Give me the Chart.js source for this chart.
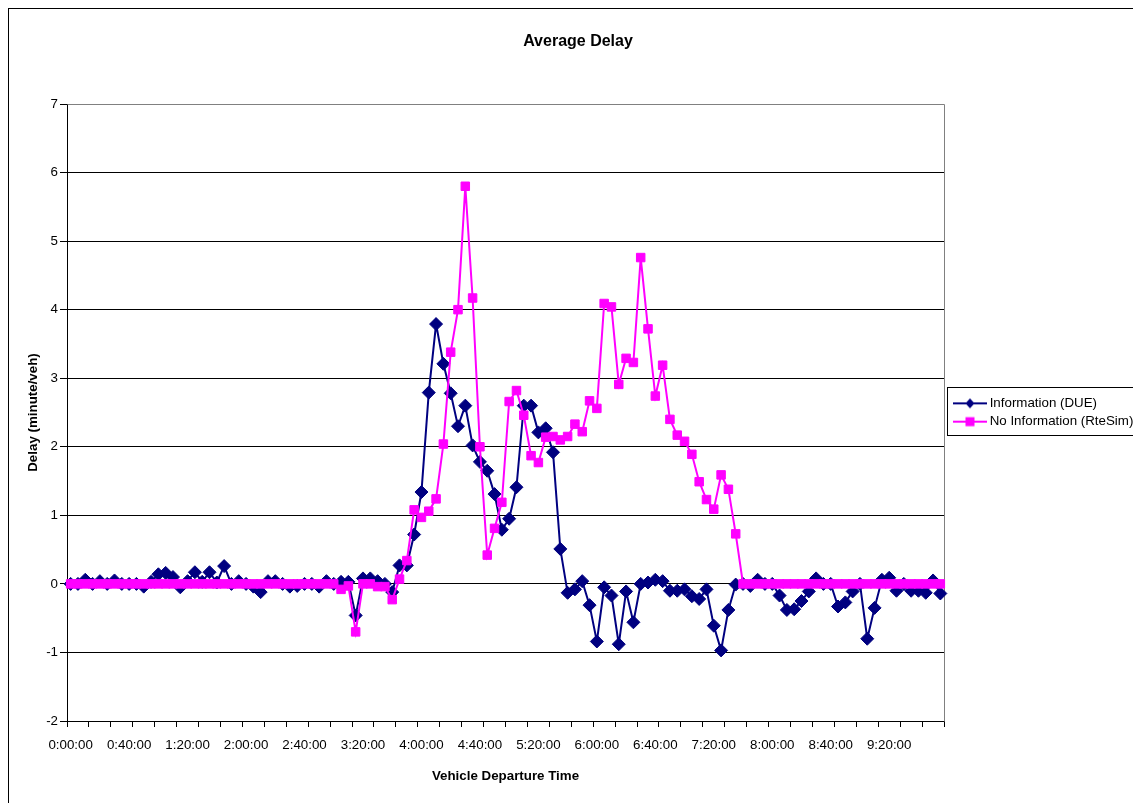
<!DOCTYPE html>
<html>
<head>
<meta charset="utf-8">
<title>Average Delay</title>
<script src="https://cdn.jsdelivr.net/npm/chart.js@4.4.1/dist/chart.umd.min.js"></script>
<style>
  html, body { margin: 0; padding: 0; background: #fff; overflow: hidden; width: 1133px; height: 803px; }
  canvas { display: block; }
</style>
</head>
<body>
<canvas id="delayChart"></canvas>
<script>
// Vehicle departure times, every 5 minutes
const departureTimes = [
  '0:00:00','0:05:00','0:10:00','0:15:00','0:20:00','0:25:00','0:30:00','0:35:00','0:40:00','0:45:00','0:50:00','0:55:00',
  '1:00:00','1:05:00','1:10:00','1:15:00','1:20:00','1:25:00','1:30:00','1:35:00','1:40:00','1:45:00','1:50:00','1:55:00',
  '2:00:00','2:05:00','2:10:00','2:15:00','2:20:00','2:25:00','2:30:00','2:35:00','2:40:00','2:45:00','2:50:00','2:55:00',
  '3:00:00','3:05:00','3:10:00','3:15:00','3:20:00','3:25:00','3:30:00','3:35:00','3:40:00','3:45:00','3:50:00','3:55:00',
  '4:00:00','4:05:00','4:10:00','4:15:00','4:20:00','4:25:00','4:30:00','4:35:00','4:40:00','4:45:00','4:50:00','4:55:00',
  '5:00:00','5:05:00','5:10:00','5:15:00','5:20:00','5:25:00','5:30:00','5:35:00','5:40:00','5:45:00','5:50:00','5:55:00',
  '6:00:00','6:05:00','6:10:00','6:15:00','6:20:00','6:25:00','6:30:00','6:35:00','6:40:00','6:45:00','6:50:00','6:55:00',
  '7:00:00','7:05:00','7:10:00','7:15:00','7:20:00','7:25:00','7:30:00','7:35:00','7:40:00','7:45:00','7:50:00','7:55:00',
  '8:00:00','8:05:00','8:10:00','8:15:00','8:20:00','8:25:00','8:30:00','8:35:00','8:40:00','8:45:00','8:50:00','8:55:00',
  '9:00:00','9:05:00','9:10:00','9:15:00','9:20:00','9:25:00','9:30:00','9:35:00','9:40:00','9:45:00','9:50:00','9:55:00'
];

// Average delay (minute/veh) with route information (DUE)
const delayInformation = [
  0, 0, 0.06, 0, 0.04, 0, 0.05, 0, 0, 0,
  -0.04, 0.03, 0.14, 0.16, 0.10, -0.05, 0.04, 0.17, 0.03, 0.17,
  0.02, 0.26, 0, 0.04, 0, -0.04, -0.12, 0.04, 0.04, 0,
  -0.04, -0.03, 0, 0, -0.04, 0.04, 0, 0.03, 0.03, -0.46,
  0.08, 0.08, 0.04, 0, -0.12, 0.27, 0.27, 0.72, 1.34, 2.79,
  3.79, 3.21, 2.78, 2.30, 2.60, 2.02, 1.78, 1.65, 1.31, 0.79,
  0.95, 1.41, 2.60, 2.60, 2.21, 2.27, 1.92, 0.51, -0.13, -0.08,
  0.04, -0.31, -0.84, -0.05, -0.17, -0.88, -0.11, -0.56, 0, 0.02,
  0.06, 0.04, -0.10, -0.10, -0.08, -0.18, -0.22, -0.08, -0.61, -0.97,
  -0.38, -0.01, 0, -0.03, 0.06, 0, 0, -0.17, -0.38, -0.37,
  -0.25, -0.11, 0.08, 0, 0, -0.33, -0.27, -0.11, 0, -0.80,
  -0.35, 0.06, 0.09, -0.10, 0, -0.10, -0.10, -0.13, 0.05, -0.14
];

// Average delay (minute/veh) without information (RteSim)
const delayNoInformation = [
  0, 0, 0, 0, 0, 0, 0, 0, 0, 0,
  0, 0, 0, 0, 0, 0, 0, 0, 0, 0,
  0, 0, 0, 0, 0, 0, 0, 0, 0, 0,
  0, 0, 0, 0, 0, 0, 0, -0.08, -0.03, -0.70,
  0, 0, -0.04, -0.04, -0.23, 0.07, 0.34, 1.08, 0.97, 1.06,
  1.24, 2.04, 3.38, 4.00, 5.80, 4.17, 2.00, 0.42, 0.81, 1.19,
  2.66, 2.82, 2.46, 1.87, 1.77, 2.14, 2.15, 2.10, 2.15, 2.33,
  2.22, 2.67, 2.56, 4.09, 4.04, 2.91, 3.29, 3.23, 4.76, 3.72,
  2.74, 3.19, 2.40, 2.17, 2.08, 1.89, 1.49, 1.23, 1.09, 1.59,
  1.38, 0.73, 0, 0, 0, 0, 0, 0, 0, 0,
  0, 0, 0, 0, 0, 0, 0, 0, 0, 0,
  0, 0, 0, 0, 0, 0, 0, 0, 0, 0
];

const seriesNames = ['Information (DUE)', 'No Information (RteSim)'];
const seriesColors = ['#000080', '#FF00FF'];
const seriesMarkers = ['rectRot', 'rect'];
const yRange = { min: -2, max: 7, step: 1 };
const labelEvery = 8;   // a time label every 40 minutes
const tickEvery = 3;    // a tick mark every 15 minutes

const FONT = '"Liberation Sans", Arial, Helvetica, sans-serif';
const FS = 13.333;

// Plot frame targets
const PLOT_LEFT = 67, PLOT_RIGHT = 944, PLOT_BOTTOM = 721, H = 803, TITLE_CX = 578;
const LEGEND_PAD = 5, SWATCH_W = 34, LEGEND_SHIFT = 11;

// Legend width as Chart.js will compute it, to place the layout
const mctx = document.createElement('canvas').getContext('2d');
mctx.font = 'normal ' + FS + 'px ' + FONT;
const maxTextW = Math.max(...seriesNames.map(t => mctx.measureText(t).width));
const legendW = LEGEND_PAD + SWATCH_W + FS / 2 + maxTextW + 10;
const padLeft = Math.max(0, 2 * TITLE_CX - PLOT_RIGHT - legendW);
const W = Math.ceil(PLOT_RIGHT + legendW);
const padRight = W - PLOT_RIGHT - legendW;

// Legend swatch: short line with the series marker
function makeSwatch(color, marker) {
  const c = document.createElement('canvas');
  c.width = 42; c.height = 14;
  const g = c.getContext('2d');
  g.strokeStyle = color; g.lineWidth = 2;
  g.beginPath(); g.moveTo(8, 7); g.lineTo(42, 7); g.stroke();
  g.fillStyle = color;
  if (marker === 'rect') {
    g.fillRect(25 - 4.5, 7 - 4.5, 9, 9);
  } else {
    g.beginPath();
    g.moveTo(25, 2); g.lineTo(29.5, 7); g.lineTo(25, 12); g.lineTo(20.5, 7);
    g.closePath(); g.fill();
  }
  return c;
}
const swatches = seriesColors.map((c, i) => makeSwatch(c, seriesMarkers[i]));

// Outer chart frame, plot border and legend box
const framePlugin = {
  id: 'frames',
  afterLayout(chart) {
    const lg = chart.legend;
    if (lg) { lg.top += LEGEND_SHIFT; lg.bottom += LEGEND_SHIFT; }
  },
  beforeDatasetsDraw(chart) {
    const { ctx, chartArea: a } = chart;
    ctx.save();
    ctx.strokeStyle = '#808080';
    ctx.lineWidth = 1;
    ctx.beginPath();
    ctx.moveTo(Math.round(a.left) + 0.5, Math.round(a.top) + 0.5);
    ctx.lineTo(Math.round(a.right) + 0.5, Math.round(a.top) + 0.5);
    ctx.lineTo(Math.round(a.right) + 0.5, Math.round(a.bottom) + 0.5);
    ctx.stroke();
    ctx.restore();
  },
  afterDraw(chart) {
    const { ctx } = chart;
    ctx.save();
    ctx.strokeStyle = '#000';
    ctx.lineWidth = 1;
    ctx.strokeRect(8.5, 8.5, chart.width + 50, chart.height + 50);
    const lg = chart.legend;
    if (lg && lg.legendHitBoxes && lg.legendHitBoxes.length) {
      const hb = lg.legendHitBoxes;
      const last = hb[hb.length - 1];
      const top = Math.round(hb[0].top - 10) + 0.5;
      const bottom = Math.round(last.top + last.height + 7) + 0.5;
      const left = Math.round(hb[0].left - 2) + 0.5;
      ctx.strokeRect(left, top, chart.width + 20 - left, bottom - top);
    }
    ctx.restore();
  }
};

const canvas = document.getElementById('delayChart');
canvas.width = W;
canvas.height = H;

new Chart(canvas, {
  type: 'line',
  data: {
    labels: departureTimes,
    datasets: [
      {
        label: seriesNames[0],
        data: delayInformation,
        borderColor: seriesColors[0],
        backgroundColor: seriesColors[0],
        pointBackgroundColor: seriesColors[0],
        pointBorderColor: seriesColors[0],
        pointStyle: seriesMarkers[0],
        pointRadius: 6.5,
        pointBorderWidth: 1,
        borderWidth: 2,
        tension: 0,
        order: 2,
        clip: 12
      },
      {
        label: seriesNames[1],
        data: delayNoInformation,
        borderColor: seriesColors[1],
        backgroundColor: seriesColors[1],
        pointBackgroundColor: seriesColors[1],
        pointBorderColor: seriesColors[1],
        pointStyle: seriesMarkers[1],
        pointRadius: 6,
        pointBorderWidth: 1,
        borderWidth: 2,
        tension: 0,
        order: 1,
        clip: 12
      }
    ]
  },
  options: {
    responsive: false,
    animation: false,
    events: [],
    layout: { padding: { left: padLeft, right: padRight, top: 0, bottom: 0 } },
    plugins: {
      title: {
        display: true,
        text: 'Average Delay',
        color: '#000',
        font: { family: FONT, size: 16, weight: 'bold' },
        padding: { top: 32.4, bottom: 52.4 }
      },
      legend: {
        display: true,
        position: 'right',
        align: 'center',
        labels: {
          usePointStyle: true,
          pointStyleWidth: SWATCH_W,
          padding: LEGEND_PAD,
          color: '#000',
          font: { family: FONT, size: FS },
          generateLabels: chart => chart.data.datasets.map((ds, i) => ({
            text: ds.label,
            pointStyle: swatches[i],
            rotation: 0,
            fillStyle: ds.borderColor,
            strokeStyle: ds.borderColor,
            lineWidth: 0,
            hidden: false,
            fontColor: '#000',
            datasetIndex: i
          }))
        }
      },
      tooltip: { enabled: false }
    },
    scales: {
      x: {
        type: 'category',
        offset: true,
        grid: {
          offset: true,
          drawOnChartArea: false,
          drawTicks: true,
          tickLength: 6,
          lineWidth: 1,
          color: c => (c.index === undefined || c.index % tickEvery === 0) ? '#000' : 'rgba(0,0,0,0)'
        },
        border: { display: true, color: '#000', width: 1 },
        ticks: {
          autoSkip: false,
          maxRotation: 0,
          minRotation: 0,
          padding: 10,
          color: '#000',
          font: { family: FONT, size: FS },
          callback: function (value, index) {
            return index % labelEvery === 0 ? this.getLabelForValue(value) : '';
          }
        },
        title: {
          display: true,
          text: 'Vehicle Departure Time',
          color: '#000',
          font: { family: FONT, size: FS, weight: 'bold' },
          padding: { top: 0, bottom: 19 }
        },
        afterFit: s => { s.height = H - PLOT_BOTTOM; }
      },
      y: {
        min: yRange.min,
        max: yRange.max,
        grid: {
          color: '#000',
          lineWidth: 1,
          drawTicks: true,
          tickLength: 7
        },
        border: { display: true, color: '#000', width: 1 },
        ticks: {
          stepSize: yRange.step,
          padding: 2,
          color: '#000',
          font: { family: FONT, size: FS }
        },
        title: {
          display: true,
          text: 'Delay (minute/veh)',
          color: '#000',
          font: { family: FONT, size: FS, weight: 'bold' },
          padding: { top: Math.max(0, 33 - padLeft - 8), bottom: 0 }
        },
        afterFit: s => { s.width = PLOT_LEFT - padLeft; }
      }
    }
  },
  plugins: [framePlugin]
});
</script>
</body>
</html>
